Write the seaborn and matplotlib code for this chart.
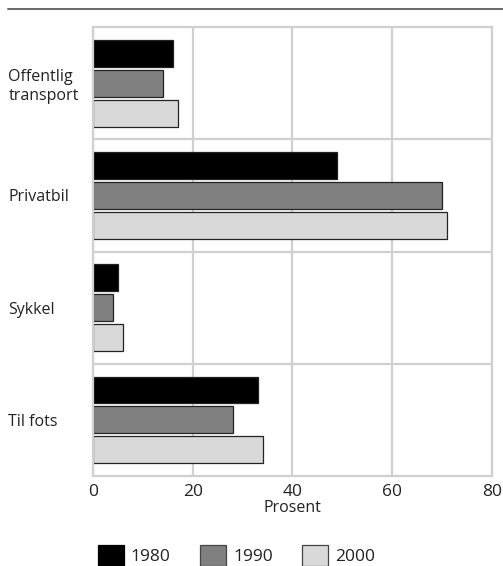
import pandas as pd
import matplotlib.pyplot as plt
import seaborn as sns
from matplotlib.lines import Line2D
from matplotlib.patches import Patch

# Data
kategorier = ["Offentlig\ntransport", "Privatbil", "Sykkel", "Til fots"]
aar = ["1980", "1990", "2000"]
v1980 = [16, 49, 5, 33]
v1990 = [14, 70, 4, 28]
v2000 = [17, 71, 6, 34]
farger = ["#000000", "#808080", "#d9d9d9"]

df = pd.DataFrame({
    "Kategori": kategorier * 3,
    "År": [aar[0]] * 4 + [aar[1]] * 4 + [aar[2]] * 4,
    "Prosent": v1980 + v1990 + v2000,
})

sns.set_theme(style="white")
plt.rcParams["font.family"] = ["Open Sans", "DejaVu Sans"]

fig = plt.figure(figsize=(5.03, 5.66), dpi=100)
ax = fig.add_axes([0.185, 0.159, 0.793, 0.793])

sns.barplot(data=df, y="Kategori", x="Prosent", hue="År", orient="h",
            palette=farger, width=0.8, gap=0.1, edgecolor="#222222",
            linewidth=0.9, ax=ax, legend=False)

ax.set_xlim(0, 80)
ax.set_ylim(3.5, -0.5)
ax.set_xticks([0, 20, 40, 60, 80])
ax.set_yticks([0.5, 1.5, 2.5], minor=True)
ax.grid(True, axis="x", color="#d0d0d0", linewidth=1.6)
ax.grid(True, axis="y", which="minor", color="#d0d0d0", linewidth=1.6)
ax.set_axisbelow(True)
for s in ax.spines.values():
    s.set_color("#d0d0d0")
    s.set_linewidth(1.6)
ax.tick_params(axis="both", which="both", length=0)
ax.tick_params(axis="x", labelsize=12.5, pad=6, colors="#222222")
ax.tick_params(axis="y", labelsize=11.5, pad=61, colors="#222222")
for lbl in ax.get_yticklabels():
    lbl.set_horizontalalignment("left")
ax.set_ylabel("")
ax.set_xlabel("Prosent", fontsize=11.5, color="#222222", labelpad=0)

# top rule
fig.add_artist(Line2D([0.016, 1.0], [0.984, 0.984], color="#666666", linewidth=1.4,
                      transform=fig.transFigure))

handles = [Patch(facecolor=c, edgecolor="#444444" if i else c, linewidth=0.9)
           for i, c in enumerate(farger)]
fig.legend(handles, aar, loc="lower center", bbox_to_anchor=(0.47, -0.028), ncol=3,
           frameon=False, fontsize=12.5, handlelength=1.5, handleheight=1.5,
           handletextpad=0.4, columnspacing=1.7, labelcolor="#222222")

fig.savefig("out.png", dpi=100)
